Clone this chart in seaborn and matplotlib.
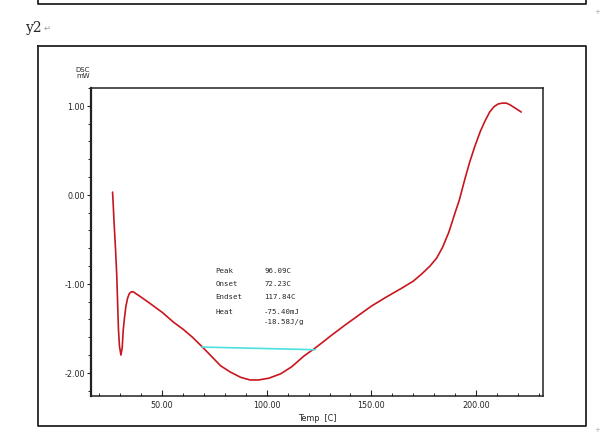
import numpy as np
import pandas as pd
import seaborn as sns
import matplotlib.pyplot as plt
from matplotlib.lines import Line2D
from matplotlib.ticker import MultipleLocator, FormatStrFormatter

temp = [26.3, 26.6, 27.0, 27.7, 28.3, 28.7, 29.1, 29.6, 30.3, 30.9, 31.4, 32.0,
        32.7, 33.5, 34.3, 35.2, 36.2, 40.0, 44.2, 50.0, 55.4, 60.0, 64.5, 68.8,
        73.0, 77.9, 82.5, 87.5, 92.0, 96.1, 101.0, 106.7, 112.0, 117.8, 122.6,
        126.5, 130.8, 137.0, 143.5, 150.0, 157.0, 164.4, 170.0, 174.0, 178.0,
        181.2, 184.0, 187.0, 190.0, 192.0, 194.7, 197.0, 199.5, 202.0, 204.3,
        206.5, 208.6, 210.5, 212.5, 214.5, 216.3, 219.0, 221.6]
dsc = [0.03, -0.10, -0.30, -0.60, -0.90, -1.20, -1.50, -1.70, -1.80, -1.72, -1.52,
       -1.38, -1.25, -1.16, -1.11, -1.09, -1.09, -1.15, -1.22, -1.32, -1.43, -1.51,
       -1.60, -1.70, -1.80, -1.92, -1.99, -2.05, -2.08, -2.08, -2.06, -2.01, -1.93,
       -1.81, -1.73, -1.66, -1.58, -1.47, -1.36, -1.25, -1.15, -1.05, -0.97, -0.89,
       -0.80, -0.71, -0.59, -0.42, -0.20, -0.06, 0.18, 0.37, 0.55, 0.71, 0.83, 0.93,
       0.99, 1.02, 1.03, 1.03, 1.01, 0.97, 0.93]

# linea base del pico
base_temp = [69.0, 123.2]
base_dsc = [-1.71, -1.74]

labels = ['Peak', 'Onset', 'Endset', 'Heat', '']
values = ['96.09C', '72.23C', '117.84C', '-75.40mJ', '-18.58J/g']

df = pd.DataFrame({'Temp': temp, 'DSC': dsc})
df_base = pd.DataFrame({'Temp': base_temp, 'DSC': base_dsc})

sns.set_style('ticks')
plt.rcParams['font.family'] = ['DejaVu Sans']

fig = plt.figure(figsize=(6, 4.35), dpi=100)
W, H = 600, 435

def fx(px):
    return px / W

def fy(py):
    return 1 - py / H

# marco del documento
frame = dict(color='#222222', lw=1.3, transform=fig.transFigure)
fig.add_artist(Line2D([fx(38), fx(586), fx(586), fx(38), fx(38)],
                      [fy(47), fy(47), fy(427), fy(427), fy(47)], **frame))
fig.add_artist(Line2D([fx(38), fx(38), fx(586), fx(586)],
                      [fy(0), fy(5), fy(5), fy(0)], **frame))
fig.text(fx(26), fy(28), 'y2', family='DejaVu Serif', fontsize=10, va='center')
fig.text(fx(44), fy(28), '\u21b5', fontsize=6, color='#999999', va='center')
fig.text(fx(597), fy(12), '+', fontsize=5, color='#aaaaaa', ha='center', va='center')
fig.text(fx(597), fy(430), '+', fontsize=5, color='#aaaaaa', ha='center', va='center')

ax = fig.add_axes([fx(91), fy(397), fx(543) - fx(91), fy(89) - fy(397)])
sns.lineplot(data=df, x='Temp', y='DSC', ax=ax, color='#c8161e', lw=1.2,
             sort=False, estimator=None)
sns.lineplot(data=df_base, x='Temp', y='DSC', ax=ax, color='#4fe0e0', lw=1.2,
             sort=False, estimator=None)

ax.set_xlim(16, 232)
ax.set_ylim(-2.26, 1.2)
ax.xaxis.set_major_locator(MultipleLocator(50))
ax.xaxis.set_minor_locator(MultipleLocator(10))
ax.yaxis.set_major_locator(MultipleLocator(1))
ax.yaxis.set_minor_locator(MultipleLocator(0.2))
ax.xaxis.set_major_formatter(FormatStrFormatter('%.2f'))
ax.yaxis.set_major_formatter(FormatStrFormatter('%.2f'))
ax.tick_params(axis='x', which='major', direction='in', length=4, width=0.8,
               labelsize=5.8, pad=3)
ax.tick_params(axis='x', which='minor', direction='in', length=2.5, width=0.7)
ax.tick_params(axis='y', which='major', direction='out', length=3, width=0.8,
               labelsize=5.8, pad=1.5)
ax.tick_params(axis='y', which='minor', direction='out', length=2, width=0.7)
for side in ['top', 'right', 'bottom', 'left']:
    ax.spines[side].set_visible(True)
    ax.spines[side].set_color('#222222')
    ax.spines[side].set_linewidth(1.1)
ax.spines['left'].set_linewidth(1.6)
ax.set_xlabel('Temp  [C]', fontsize=5.8, labelpad=3)
ax.set_ylabel('')
fig.text(fx(83), fy(73), 'DSC\nmW', fontsize=5, ha='center', va='center',
         linespacing=1.1)

# tabla de resultados
ys = [-0.84, -0.99, -1.14, -1.30, -1.42]
for lab, val, yy in zip(labels, values, ys):
    ax.text(75.6, yy, lab, fontsize=5.3, family='DejaVu Sans Mono', va='center')
    ax.text(98.7, yy, val, fontsize=5.3, family='DejaVu Sans Mono', va='center')

fig.savefig('out.png', dpi=100)
